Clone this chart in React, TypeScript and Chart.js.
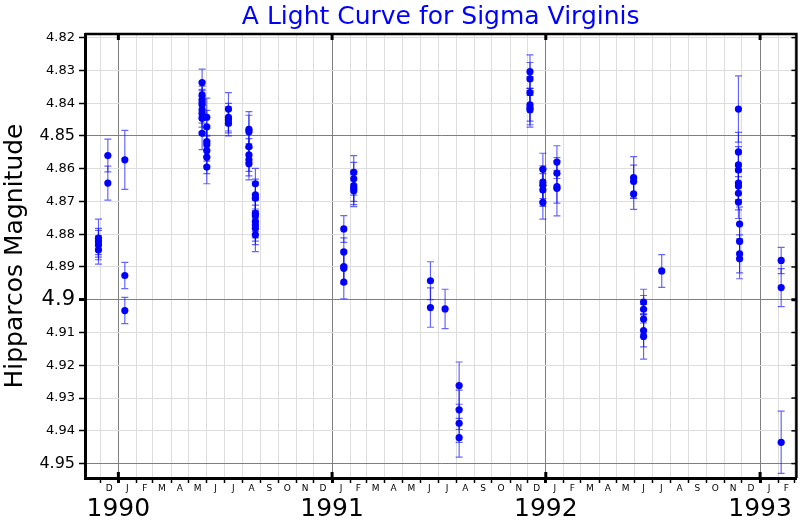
import React, { useEffect, useRef } from 'react';
import { Chart, registerables } from 'chart.js';

Chart.register(...registerables);
Chart.defaults.font.family = "'DejaVu Sans', sans-serif";

const CHART_TITLE = 'A Light Curve for Sigma Virginis';
const Y_TITLE = 'Hipparcos Magnitude';

// Observation dates (one per point)
const obsDates = [
  '1989-11-28', '1989-11-28', '1989-11-28', '1989-11-28',
  '1989-12-14', '1989-12-14',
  '1990-01-12', '1990-01-12', '1990-01-12',
  '1990-05-24', '1990-05-24', '1990-05-24', '1990-05-24', '1990-05-24', '1990-05-24', '1990-05-24', '1990-05-24', '1990-05-24',
  '1990-06-01', '1990-06-01', '1990-06-01', '1990-06-01', '1990-06-01', '1990-06-01', '1990-06-01',
  '1990-07-08', '1990-07-08', '1990-07-08', '1990-07-08',
  '1990-08-12', '1990-08-12', '1990-08-12', '1990-08-12', '1990-08-12', '1990-08-12',
  '1990-08-23', '1990-08-23', '1990-08-23', '1990-08-23', '1990-08-23', '1990-08-23', '1990-08-23', '1990-08-23', '1990-08-23',
  '1991-01-21', '1991-01-21', '1991-01-21', '1991-01-21', '1991-01-21',
  '1991-02-07', '1991-02-07', '1991-02-07', '1991-02-07', '1991-02-07',
  '1991-06-18', '1991-06-18',
  '1991-07-13',
  '1991-08-06', '1991-08-06', '1991-08-06', '1991-08-06',
  '1991-12-05', '1991-12-05', '1991-12-05', '1991-12-05', '1991-12-05', '1991-12-05',
  '1991-12-27', '1991-12-27', '1991-12-27', '1991-12-27', '1991-12-27',
  '1992-01-20', '1992-01-20', '1992-01-20', '1992-01-20',
  '1992-05-30', '1992-05-30', '1992-05-30',
  '1992-06-16', '1992-06-16', '1992-06-16', '1992-06-16', '1992-06-16',
  '1992-07-17',
  '1992-11-25', '1992-11-25', '1992-11-25', '1992-11-25', '1992-11-25', '1992-11-25', '1992-11-25', '1992-11-25',
  '1992-11-27', '1992-11-27', '1992-11-27', '1992-11-27',
  '1993-02-06', '1993-02-06', '1993-02-06',
];

const magnitudes = [
  4.8812, 4.8822, 4.8833, 4.8848,
  4.8560, 4.8644,
  4.8573, 4.8926, 4.9033,
  4.8337, 4.8375, 4.8390, 4.8398, 4.8405, 4.8421, 4.8431, 4.8446, 4.8492,
  4.8443, 4.8472, 4.8517, 4.8527, 4.8545, 4.8565, 4.8595,
  4.8418, 4.8443, 4.8451, 4.8461,
  4.8480, 4.8487, 4.8533, 4.8558, 4.8573, 4.8585,
  4.8646, 4.8680, 4.8690, 4.8736, 4.8744, 4.8761, 4.8772, 4.8782, 4.8802,
  4.8784, 4.8854, 4.8899, 4.8904, 4.8946,
  4.8611, 4.8631, 4.8652, 4.8660, 4.8667,
  4.8942, 4.9024,
  4.9028,
  4.9262, 4.9336, 4.9377, 4.9421,
  4.8304, 4.8326, 4.8368, 4.8405, 4.8414, 4.8421,
  4.8602, 4.8641, 4.8650, 4.8665, 4.8703,
  4.8580, 4.8614, 4.8655, 4.8660,
  4.8627, 4.8639, 4.8677,
  4.9007, 4.9029, 4.9059, 4.9094, 4.9112,
  4.8912,
  4.8418, 4.8549, 4.8588, 4.8604, 4.8644, 4.8653, 4.8675, 4.8702,
  4.8769, 4.8822, 4.8860, 4.8875,
  4.8880, 4.8963, 4.9435,
];

const magErrors = [
  0.0058, 0.0040, 0.0045, 0.0043,
  0.0050, 0.0052,
  0.0090, 0.0040, 0.0040,
  0.0041, 0.0040, 0.0042, 0.0040, 0.0043, 0.0040, 0.0042, 0.0041, 0.0050,
  0.0058, 0.0050, 0.0048, 0.0050, 0.0047, 0.0050, 0.0051,
  0.0050, 0.0042, 0.0040, 0.0039,
  0.0054, 0.0050, 0.0048, 0.0050, 0.0049, 0.0049,
  0.0047, 0.0048, 0.0050, 0.0049, 0.0048, 0.0050, 0.0049, 0.0050, 0.0051,
  0.0041, 0.0043, 0.0050, 0.0048, 0.0051,
  0.0051, 0.0050, 0.0048, 0.0050, 0.0049,
  0.0058, 0.0060,
  0.0060,
  0.0072, 0.0060, 0.0058, 0.0059,
  0.0051, 0.0050, 0.0049, 0.0050, 0.0052, 0.0052,
  0.0049, 0.0050, 0.0051, 0.0050, 0.0051,
  0.0050, 0.0048, 0.0050, 0.0084,
  0.0064, 0.0050, 0.0047,
  0.0039, 0.0042, 0.0045, 0.0050, 0.0069,
  0.0050,
  0.0101, 0.0060, 0.0055, 0.0052, 0.0050, 0.0050, 0.0051, 0.0050,
  0.0052, 0.0053, 0.0058, 0.0061,
  0.0040, 0.0058, 0.0095,
];

const yTickValues = [4.82, 4.83, 4.84, 4.85, 4.86, 4.87, 4.88, 4.89, 4.9, 4.91, 4.92, 4.93, 4.94, 4.95];
const yTickLabels = ['4.82', '4.83', '4.84', '4.85', '4.86', '4.87', '4.88', '4.89', '4.9', '4.91', '4.92', '4.93', '4.94', '4.95'];
const yMajorLabels = ['4.85', '4.9', '4.95'];
const monthLetters = ['J', 'F', 'M', 'A', 'M', 'J', 'J', 'A', 'S', 'O', 'N', 'D'];
const yearLabels = ['1990', '1991', '1992', '1993'];
const xStartDate = '1989-11-05';
const xEndDate = '1993-03-04';
const yMin = 4.8189;
const yMax = 4.9544;

const DAY = 86400000;
const EPOCH = Date.UTC(1990, 0, 1);
const dayNum = (s: string) => {
  const [yy, mm, dd] = s.split('-').map(Number);
  return (Date.UTC(yy, mm - 1, dd) - EPOCH) / DAY;
};
const xMin = dayNum(xStartDate);
const xMax = dayNum(xEndDate);

type MTick = { value: number; label: string; kind: 'year' | 'month' | 'mid' };
const monthTicks: MTick[] = [];
for (let yr = 1989; yr <= 1993; yr++) {
  for (let m = 0; m < 12; m++) {
    const s = (Date.UTC(yr, m, 1) - EPOCH) / DAY;
    const e = (Date.UTC(yr, m + 1, 1) - EPOCH) / DAY;
    if (s >= xMin && s <= xMax) monthTicks.push({ value: s, label: '', kind: m === 0 ? 'year' : 'month' });
    if (s >= xMin && e <= xMax) monthTicks.push({ value: (s + e) / 2, label: monthLetters[m], kind: 'mid' });
  }
}
const yearDays = yearLabels.map((y) => dayNum(`${y}-01-01`));

const errorBarPlugin = {
  id: 'errorBars',
  beforeDatasetsDraw(chart: any) {
    const { ctx, chartArea: a } = chart;
    const xs = chart.scales.x;
    const ys = chart.scales.y;
    ctx.save();
    ctx.beginPath();
    ctx.rect(a.left, a.top, a.right - a.left, a.bottom - a.top);
    ctx.clip();
    ctx.strokeStyle = 'rgba(0,0,255,0.6)';
    ctx.lineWidth = 1.2;
    chart.data.datasets[0].data.forEach((p: any) => {
      const px = xs.getPixelForValue(p.x);
      const y1 = ys.getPixelForValue(p.y - p.err);
      const y2 = ys.getPixelForValue(p.y + p.err);
      ctx.beginPath();
      ctx.moveTo(px, y1);
      ctx.lineTo(px, y2);
      ctx.moveTo(px - 3.5, y1);
      ctx.lineTo(px + 3.5, y1);
      ctx.moveTo(px - 3.5, y2);
      ctx.lineTo(px + 3.5, y2);
      ctx.stroke();
    });
    ctx.restore();
  },
};

const framePlugin = {
  id: 'frame',
  afterDraw(chart: any) {
    const { ctx, chartArea: a } = chart;
    const xs = chart.scales.x;
    const ys = chart.scales.y;
    ctx.save();
    ctx.strokeStyle = '#000';
    ctx.lineWidth = 2.5;
    ctx.beginPath();
    ctx.moveTo(a.left, a.top);
    ctx.lineTo(a.right, a.top);
    ctx.lineTo(a.right, a.bottom);
    ctx.stroke();
    ctx.lineWidth = 3;
    yearDays.forEach((d) => {
      if (d < xMin || d > xMax) return;
      const px = xs.getPixelForValue(d);
      ctx.beginPath();
      ctx.moveTo(px, a.top);
      ctx.lineTo(px, a.top + 6);
      ctx.moveTo(px, a.bottom);
      ctx.lineTo(px, a.bottom - 6);
      ctx.stroke();
    });
    yTickValues.forEach((v, i) => {
      const py = ys.getPixelForValue(v);
      ctx.lineWidth = yTickLabels[i] === '4.9' ? 3 : 1.5;
      ctx.beginPath();
      ctx.moveTo(a.right, py);
      ctx.lineTo(a.right - 5, py);
      ctx.stroke();
    });
    ctx.restore();
  },
};

export default function App() {
  const ref = useRef<HTMLCanvasElement>(null);
  useEffect(() => {
    if (!ref.current) return;
    const points = obsDates.map((d, i) => ({ x: dayNum(d), y: magnitudes[i], err: magErrors[i] }));
    const chart = new Chart(ref.current, {
      type: 'scatter',
      data: {
        datasets: [
          {
            data: points,
            backgroundColor: '#0000ff',
            borderColor: '#0000ff',
            pointRadius: 3.6,
            pointHoverRadius: 3.6,
            pointBorderWidth: 0,
          },
        ],
      },
      plugins: [errorBarPlugin, framePlugin],
      options: {
        animation: false,
        responsive: false,
        devicePixelRatio: 1,
        events: [],
        layout: { padding: { left: 0, right: 3, top: 0, bottom: 0 } },
        plugins: {
          legend: { display: false },
          tooltip: { enabled: false },
          title: {
            display: true,
            text: CHART_TITLE,
            color: '#0000ff',
            fullSize: false,
            font: { size: 25, weight: 'normal' },
            padding: { top: 2, bottom: 2 },
          },
        },
        scales: {
          x: {
            type: 'linear',
            position: 'bottom',
            weight: 0,
            min: xMin,
            max: xMax,
            afterBuildTicks: (s: any) => {
              s.ticks = monthTicks.map((t) => ({ value: t.value }));
            },
            afterFit: (s: any) => {
              s.height = 16;
            },
            ticks: {
              autoSkip: false,
              maxRotation: 0,
              minRotation: 0,
              padding: 0,
              color: '#000',
              font: { size: 9 },
              callback: (_v: any, i: number) => (monthTicks[i] ? monthTicks[i].label : ''),
            },
            grid: {
              color: (c: any) => {
                const t = monthTicks[c.index];
                if (!t) return 'rgba(0,0,0,0)';
                return t.kind === 'year' ? '#7f7f7f' : t.kind === 'month' ? '#dddddd' : 'rgba(0,0,0,0)';
              },
              lineWidth: 1,
              tickLength: 5,
              tickColor: (c: any) => {
                const t = monthTicks[c.index];
                return t && t.kind !== 'mid' ? '#000' : 'rgba(0,0,0,0)';
              },
              tickWidth: (c: any) => {
                const t = monthTicks[c.index];
                return t && t.kind === 'year' ? 3 : 1.5;
              },
            },
            border: { color: '#000', width: 3 },
          },
          x2: {
            type: 'linear',
            position: 'bottom',
            weight: 1,
            min: xMin,
            max: xMax,
            afterBuildTicks: (s: any) => {
              s.ticks = yearDays.map((d) => ({ value: d }));
            },
            afterFit: (s: any) => {
              s.height = 26;
            },
            grid: { display: false, drawTicks: false },
            border: { display: false },
            ticks: {
              autoSkip: false,
              maxRotation: 0,
              minRotation: 0,
              padding: 0,
              color: '#000',
              font: { size: 25 },
              callback: (_v: any, i: number) => yearLabels[i],
            },
          },
          y: {
            type: 'linear',
            position: 'left',
            reverse: true,
            min: yMin,
            max: yMax,
            afterBuildTicks: (s: any) => {
              s.ticks = yTickValues.map((v) => ({ value: v }));
            },
            afterFit: (s: any) => {
              s.width = 85;
            },
            ticks: {
              autoSkip: false,
              padding: 4,
              color: '#000',
              font: (c: any) => {
                const lab = yTickLabels[c.index];
                return { size: lab === '4.9' ? 21 : yMajorLabels.includes(lab) ? 16 : 13 };
              },
              callback: (_v: any, i: number) => yTickLabels[i],
            },
            grid: {
              color: (c: any) => (yMajorLabels.includes(yTickLabels[c.index]) ? '#7f7f7f' : '#dddddd'),
              lineWidth: 1,
              tickLength: 6,
              tickColor: '#000',
              tickWidth: (c: any) => (yTickLabels[c.index] === '4.9' ? 3 : 1.5),
            },
            border: { color: '#000', width: 3 },
            title: {
              display: true,
              text: Y_TITLE,
              color: '#000',
              font: { size: 25 },
              padding: { top: 0, bottom: 0 },
            },
          },
        },
      } as any,
    });
    return () => chart.destroy();
  }, []);

  return (
    <div style={{ position: 'absolute', left: 0, top: 0, width: 800, height: 520, background: '#fff' }}>
      <canvas ref={ref} width={800} height={520} style={{ display: 'block' }} />
    </div>
  );
}
